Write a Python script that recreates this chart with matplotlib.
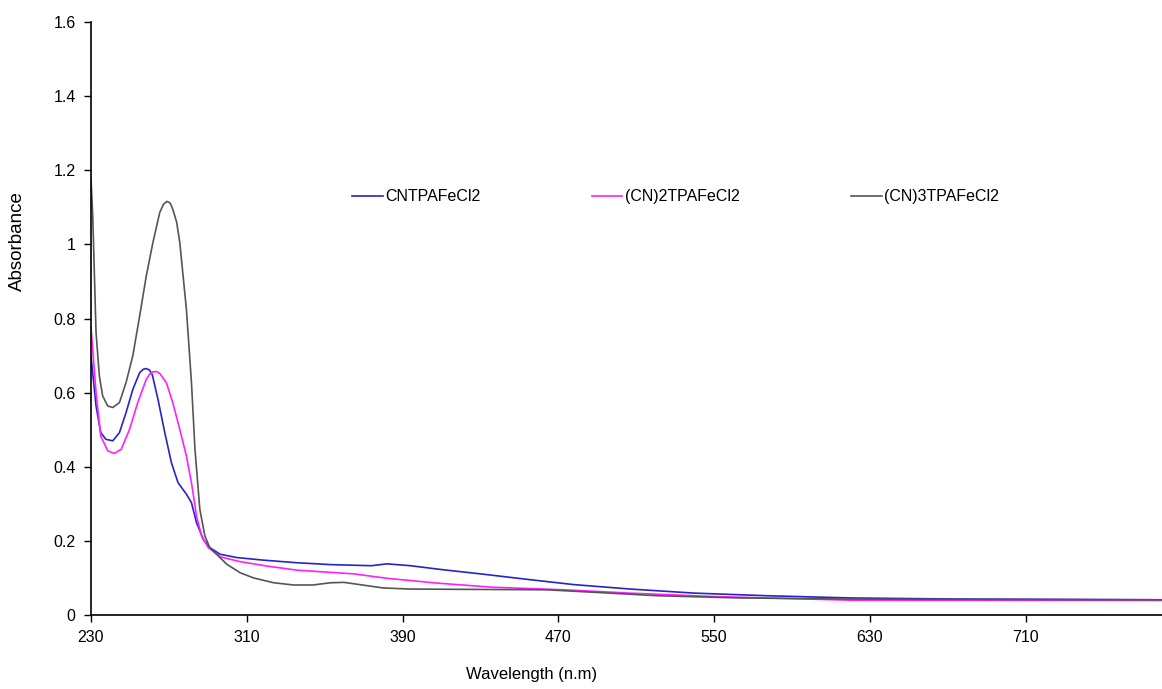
import matplotlib
matplotlib.use('Agg')
import matplotlib.pyplot as plt

# spectra (wavelength in nm, absorbance)
cn1_nm = [230, 232.6, 235, 237.7, 241.2, 244.6, 248, 251.5, 255, 256.8, 258.4, 260, 261.5,
          264.4, 267.9, 271.3, 274.7, 279, 281.6, 284.2, 287.7, 291, 296.3, 304.9, 318.6,
          335.8, 353, 374, 382, 394, 411, 430, 456, 478, 507, 540, 577, 620, 676, 780]
cn1_abs = [0.699, 0.564, 0.492, 0.474, 0.47, 0.492, 0.546, 0.609, 0.654, 0.663, 0.665,
           0.661, 0.648, 0.582, 0.492, 0.411, 0.357, 0.326, 0.303, 0.249, 0.204, 0.182,
           0.164, 0.155, 0.148, 0.141, 0.136, 0.133, 0.138, 0.133, 0.122, 0.111, 0.095,
           0.082, 0.07, 0.059, 0.052, 0.046, 0.043, 0.041]

cn2_nm = [230, 232.6, 235, 238.6, 242, 245.5, 249.8, 254, 258.4, 260.2, 261.8, 263.6,
          265.3, 268.7, 272, 275.6, 279, 281.6, 284.2, 286.8, 290.2, 296.3, 306.6, 320.4,
          335.8, 353, 365, 382, 408, 436, 473, 507, 549, 591, 620, 780]
cn2_abs = [0.776, 0.6, 0.483, 0.443, 0.436, 0.447, 0.501, 0.573, 0.636, 0.65, 0.656, 0.657,
           0.652, 0.627, 0.573, 0.501, 0.429, 0.357, 0.267, 0.213, 0.182, 0.157, 0.144,
           0.132, 0.121, 0.115, 0.111, 0.099, 0.086, 0.075, 0.068, 0.059, 0.05, 0.044,
           0.04, 0.039]

cn3_nm = [230, 230.9, 232.6, 234.3, 236, 238.6, 241.2, 244.6, 248, 251.5, 255, 258.4,
          261.8, 265.3, 267.2, 269, 270.6, 272, 274, 275.6, 279, 281.6, 283.4, 285.9,
          288.5, 291, 294.5, 299.7, 306.6, 313.5, 323.8, 334, 344, 353, 360, 368, 380,
          394, 464, 493, 521, 563, 620, 780]
cn3_abs = [1.178, 1.077, 0.762, 0.645, 0.591, 0.564, 0.56, 0.573, 0.627, 0.70, 0.807,
           0.915, 1.005, 1.086, 1.108, 1.116, 1.112, 1.095, 1.06, 1.005, 0.825, 0.627,
           0.447, 0.285, 0.213, 0.182, 0.164, 0.137, 0.114, 0.10, 0.087, 0.081, 0.081,
           0.087, 0.088, 0.082, 0.073, 0.07, 0.068, 0.06, 0.052, 0.046, 0.043, 0.041]

series_names = ["CNTPAFeCl2", "(CN)2TPAFeCl2", "(CN)3TPAFeCl2"]
x_ticks = [230, 310, 390, 470, 550, 630, 710]
y_ticks = [0, 0.2, 0.4, 0.6, 0.8, 1.0, 1.2, 1.4, 1.6]
y_tick_labels = ["0", "0.2", "0.4", "0.6", "0.8", "1", "1.2", "1.4", "1.6"]

font = ['Liberation Sans', 'DejaVu Sans']

fig = plt.figure(figsize=(11.62, 6.89), dpi=100)
ax = fig.add_axes([0.0783, 0.1074, 0.9217, 0.8606])

ax.plot(cn1_nm, cn1_abs, color='#2424c8', lw=1.2, label=series_names[0])
ax.plot(cn2_nm, cn2_abs, color='#ff20ff', lw=1.2, label=series_names[1])
ax.plot(cn3_nm, cn3_abs, color='#555555', lw=1.2, label=series_names[2])

ax.set_xlim(230, 780)
ax.set_ylim(0, 1.6)
ax.set_xticks(x_ticks)
ax.set_xticklabels([str(t) for t in x_ticks], family=font, fontsize=11.5)
ax.set_yticks(y_ticks)
ax.set_yticklabels(y_tick_labels, family=font, fontsize=11.5)
ax.tick_params(axis='both', direction='out', length=5, width=1, colors='black', pad=6)

for s in ['top', 'right']:
    ax.spines[s].set_visible(False)
for s in ['left', 'bottom']:
    ax.spines[s].set_linewidth(1.2)

ax.set_ylabel("Absorbance", family=font, fontsize=13.5)
ax.yaxis.set_label_coords(-0.061, 0.63)
ax.set_xlabel("Wavelength (n.m)", family=font, fontsize=12)
ax.xaxis.set_label_coords(0.411, -0.088)

leg = ax.legend(loc='center left', bbox_to_anchor=(0.244, 0.705), ncol=3,
                frameon=False, handlelength=1.9, handletextpad=0.15,
                columnspacing=7.0, borderpad=0, borderaxespad=0,
                prop={'family': font, 'size': 11.5})

fig.savefig("out.png", dpi=100)
